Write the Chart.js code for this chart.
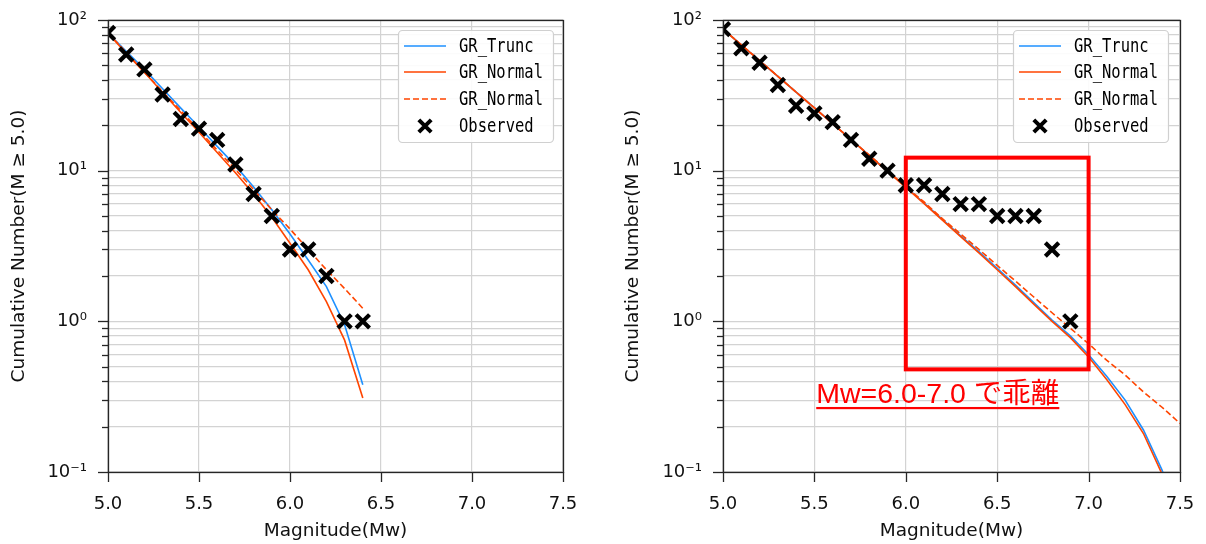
<!DOCTYPE html>
<html><head><meta charset="utf-8">
<script src="https://cdn.jsdelivr.net/npm/chart.js@4.4.1/dist/chart.umd.min.js"></script>
<style>
html,body{margin:0;padding:0;background:#fff;}
#wrap{position:relative;width:1206px;height:544px;overflow:hidden;background:#fff;}
canvas{position:absolute;top:0;}
#c1{left:0;} #c2{left:603px;}
</style></head><body>
<div id="wrap"><canvas id="c1" width="603" height="544"></canvas><canvas id="c2" width="603" height="544"></canvas></div>
<script>
// ---------- data ----------
const magLeft = [5.0,5.1,5.2,5.3,5.4,5.5,5.6,5.7,5.8,5.9,6.0,6.1,6.2,6.3,6.4];
const obsLeft = [82,59,47,32,22,19,16,11,7,5,3,3,2,1,1];
const truncLeft = [82,62,47,35,26,19.5,14.5,10.8,7.8,5.5,3.8,2.55,1.7,0.95,0.38];
const normalLeft = [82,60,45,33,24.3,18,13.2,9.7,7.0,4.9,3.3,2.2,1.35,0.75,0.31];
const normalDashLeft = [82,61,45,33.5,25,18.5,13.7,10.2,7.5,5.5,4.1,3.0,2.2,1.65,1.22];

const magRightObs = [5.0,5.1,5.2,5.3,5.4,5.5,5.6,5.7,5.8,5.9,6.0,6.1,6.2,6.3,6.4,6.5,6.6,6.7,6.8,6.9];
const obsRight = [87,65,52,37,27,24,21,16,12,10,8,8,7,6,6,5,5,5,3,1];
const magRightModel = [5.0,5.1,5.2,5.3,5.4,5.5,5.6,5.7,5.8,5.9,6.0,6.1,6.2,6.3,6.4,6.5,6.6,6.7,6.8,6.9,7.0,7.1,7.2,7.3,7.4,7.5];
const truncRight = [87,68.4,53.8,42.3,33.2,26.1,20.5,16.1,12.65,9.95,7.8,6.1,4.75,3.7,2.9,2.25,1.74,1.33,1.02,0.8,0.6,0.43,0.3,0.19,0.104,0.052];
const normalRight = [87,68.4,53.8,42.3,33.2,26.1,20.5,16.1,12.6,9.9,7.75,6.05,4.7,3.65,2.85,2.2,1.7,1.3,1.0,0.78,0.58,0.41,0.28,0.18,0.098,0.05];
const normalDashRight = [87,68.4,53.8,42.3,33.2,26.1,20.5,16.1,12.7,10.0,7.8,6.2,4.8,3.8,3.0,2.35,1.85,1.45,1.14,0.9,0.71,0.55,0.44,0.34,0.27,0.21];

const seriesNames = ['GR_Trunc','GR_Normal','GR_Normal','Observed'];
const xTicks = [5.0,5.5,6.0,6.5,7.0,7.5];
const xTickLabels = ['5.0','5.5','6.0','6.5','7.0','7.5'];
const yMajor = [0.1,1,10,100];
const yTickLabels = ['10\u207B\u00B9','10\u2070','10\u00B9','10\u00B2'];
const xTitle = 'Magnitude(Mw)';
const yTitle = 'Cumulative Number(M \u2265 5.0)';
const noteText = 'Mw=6.0-7.0 \u3067\u4E56\u96E2';
const boxMag = [6.0, 7.0];
const boxCount = [0.48, 12.2];
const noteAnchor = [5.51, 0.285];

// ---------- styles ----------
const BLUE = '#1E90FF', ORANGE = '#FF4500', RED = '#FF0000';
const FONT = "'DejaVu Sans', sans-serif";

function pts(xs, ys){ return xs.map((x,i)=>({x:x, y:ys[i]})); }

function framePlugin(cfg){
  return {
    id:'frame'+cfg.id,
    afterDatasetsDraw(chart){
      const ctx = chart.ctx, a = chart.chartArea;
      const xs = chart.scales.x, ys = chart.scales.y;
      ctx.save();
      ctx.strokeStyle = '#262626'; ctx.lineWidth = 1.3;
      ctx.strokeRect(Math.round(a.left)+0.5, Math.round(a.top)+0.5, Math.round(a.right-a.left), Math.round(a.bottom-a.top));
      ys.ticks.forEach(t=>{
        const y = Math.round(ys.getPixelForValue(t.value))+0.5;
        const major = yMajor.indexOf(t.value) >= 0;
        const len = major ? 10 : 6;
        ctx.beginPath(); ctx.moveTo(a.left, y); ctx.lineTo(a.left-len, y); ctx.stroke();
      });
      xs.ticks.forEach(t=>{
        const x = Math.round(xs.getPixelForValue(t.value))+0.5;
        ctx.beginPath(); ctx.moveTo(x, a.bottom); ctx.lineTo(x, a.bottom+10); ctx.stroke();
      });
      ctx.restore();
    },
    afterDraw(chart){
      const ctx = chart.ctx, a = chart.chartArea;
      const bw = 155, bh = 112;
      const bx = a.right - cfg.legendRight - bw, by = a.top + 10;
      ctx.save();
      ctx.fillStyle = 'rgba(255,255,255,0.9)';
      ctx.strokeStyle = '#d0d0d0'; ctx.lineWidth = 1.2;
      ctx.beginPath();
      if (ctx.roundRect) ctx.roundRect(bx+0.5, by+0.5, bw, bh, 4); else ctx.rect(bx+0.5,by+0.5,bw,bh);
      ctx.fill(); ctx.stroke();
      const rows = [16, 42, 69, 96];
      const ds = chart.data.datasets;
      for (let i=0;i<4;i++){
        const y = by + rows[i];
        const d = ds[i];
        if (i < 3){
          ctx.save();
          ctx.strokeStyle = d.borderColor; ctx.lineWidth = d.borderWidth;
          ctx.setLineDash(d.borderDash || []);
          ctx.beginPath(); ctx.moveTo(bx+6, y); ctx.lineTo(bx+48, y); ctx.stroke();
          ctx.restore();
        } else {
          ctx.save();
          ctx.strokeStyle = '#000'; ctx.lineWidth = 4;
          const r = 6.2;
          const cx = bx+27;
          ctx.beginPath(); ctx.moveTo(cx-r, y-r); ctx.lineTo(cx+r, y+r);
          ctx.moveTo(cx-r, y+r); ctx.lineTo(cx+r, y-r); ctx.stroke();
          ctx.restore();
        }
        ctx.save();
        ctx.translate(bx+61, y+1);
        ctx.scale(1, 1.22);
        ctx.font = "15.5px 'DejaVu Sans Mono', monospace";
        ctx.textBaseline = 'middle'; ctx.textAlign = 'left';
        ctx.fillStyle = '#000';
        ctx.fillText(d.label, 0, 0);
        ctx.restore();
      }
      ctx.restore();
      if (cfg.note){
        const xs = chart.scales.x, ys = chart.scales.y;
        const x0 = xs.getPixelForValue(boxMag[0]), x1 = xs.getPixelForValue(boxMag[1]);
        const y0 = ys.getPixelForValue(boxCount[1]), y1 = ys.getPixelForValue(boxCount[0]);
        ctx.save();
        ctx.strokeStyle = RED; ctx.lineWidth = 4;
        ctx.strokeRect(x0, y0, x1-x0, y1-y0);
        const tx = xs.getPixelForValue(noteAnchor[0]), ty = ys.getPixelForValue(noteAnchor[1]);
        ctx.font = "28.5px 'Liberation Sans', 'Noto Sans CJK JP', sans-serif";
        ctx.fillStyle = RED; ctx.textBaseline = 'alphabetic'; ctx.textAlign = 'left';
        ctx.fillText(noteText, tx, ty);
        const w = ctx.measureText(noteText).width;
        ctx.fillRect(tx, ty+3.5, w, 2.2);
        ctx.restore();
      }
    }
  };
}

function makeChart(id, cfg){
  const datasets = [
    {label: seriesNames[0], data: pts(cfg.modelX, cfg.trunc), borderColor: BLUE, borderWidth: 1.6, pointRadius: 0, order: 3, tension: 0},
    {label: seriesNames[1], data: pts(cfg.modelX, cfg.normal), borderColor: ORANGE, borderWidth: 1.6, pointRadius: 0, order: 2, tension: 0},
    {label: seriesNames[2], data: pts(cfg.modelX, cfg.dash), borderColor: ORANGE, borderWidth: 1.6, borderDash: [6,3], pointRadius: 0, order: 1, tension: 0},
    {label: seriesNames[3], data: pts(cfg.obsX, cfg.obs), showLine: false, pointStyle: 'crossRot', pointRadius: 9.5, pointBorderWidth: 4.2, borderColor: '#000', backgroundColor: '#000', order: 0}
  ];
  return new Chart(document.getElementById(id), {
    type: 'line',
    data: {datasets},
    options: {
      responsive: false, animation: false, devicePixelRatio: 1,
      layout: {padding: {left: 0, right: cfg.padRight, top: 20, bottom: 0}},
      plugins: {legend: {display: false}, tooltip: {enabled: false}},
      scales: {
        x: {
          type: 'linear', min: 5.0, max: 7.5,
          afterBuildTicks: s => { s.ticks = xTicks.map(v=>({value:v})); },
          afterFit: s => { s.height = 72; s.paddingLeft = 0; s.paddingRight = 0; },
          ticks: {autoSkip: false, maxRotation: 0, padding: 22, color: '#111', font: {family: FONT, size: 18},
            callback: (v) => { const i = xTicks.indexOf(v); return i>=0 ? xTickLabels[i] : ''; }},
          grid: {color: '#d3d3d3', lineWidth: 1.2, drawTicks: false},
          border: {display: false},
          title: {display: true, text: xTitle, color: '#111', font: {family: FONT, size: 18.5}, padding: {top: 0, bottom: 2}}
        },
        y: {
          type: 'logarithmic', min: 0.1, max: 100,
          afterBuildTicks: s => {
            const t = [];
            for (let i=0;i<yMajor.length;i++){
              t.push({value: yMajor[i], major: true});
              if (i < yMajor.length-1) for (let m=2;m<=9;m++) t.push({value: yMajor[i]*m});
            }
            s.ticks = t;
          },
          afterFit: s => { s.width = cfg.yWidth; s.paddingTop = 0; s.paddingBottom = 0; },
          ticks: {autoSkip: false, padding: 21, color: '#111', font: {family: FONT, size: 18},
            callback: (v) => { const i = yMajor.indexOf(v); return i>=0 ? yTickLabels[i] : ''; }},
          grid: {color: '#d3d3d3', lineWidth: 1.2, drawTicks: false},
          border: {display: false},
          title: {display: true, text: yTitle, color: '#111', font: {family: FONT, size: 18.5}, padding: {top: cfg.yTitlePad, bottom: 0}}
        }
      }
    },
    plugins: [framePlugin(cfg)]
  });
}

makeChart('c1', {id:'L', modelX: magLeft, trunc: truncLeft, normal: normalLeft, dash: normalDashLeft,
  obsX: magLeft, obs: obsLeft, padRight: 40, yWidth: 108, yTitlePad: 8, legendRight: 10, note: false});
makeChart('c2', {id:'R', modelX: magRightModel, trunc: truncRight, normal: normalRight, dash: normalDashRight,
  obsX: magRightObs, obs: obsRight, padRight: 26, yWidth: 120, yTitlePad: 19, legendRight: 12, note: true});
</script>
</body></html>
